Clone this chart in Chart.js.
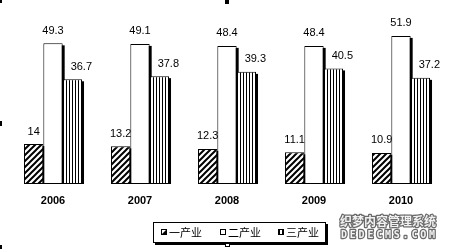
<!DOCTYPE html>
<html>
<head>
<meta charset="utf-8">
<script src="https://cdn.jsdelivr.net/npm/chart.js@4.4.0/dist/chart.umd.min.js"></script>
<style>
  html, body { margin: 0; padding: 0; background: #fff; }
  #wrap { position: relative; width: 449px; height: 249px; }
</style>
</head>
<body>
<div id="wrap"><canvas id="chart" width="449" height="249"></canvas></div>
<script>
const years = ["2006", "2007", "2008", "2009", "2010"];
const primary = [14, 13.2, 12.3, 11.1, 10.9];
const secondary = [49.3, 49.1, 48.4, 48.4, 51.9];
const tertiary = [36.7, 37.8, 39.3, 40.5, 37.2];
const seriesNames = ["一产业", "二产业", "三产业"];

// fill patterns, like the old office chart
function hatchPattern() {
  const c = document.createElement("canvas");
  c.width = 6; c.height = 6;
  const g = c.getContext("2d");
  g.fillStyle = "#fff";
  g.fillRect(0, 0, 6, 6);
  g.strokeStyle = "#000";
  g.lineWidth = 2;
  g.beginPath();
  g.moveTo(-1, 7); g.lineTo(7, -1);
  g.moveTo(-1, 1); g.lineTo(1, -1);
  g.moveTo(5, 7); g.lineTo(7, 5);
  g.stroke();
  return g.createPattern(c, "repeat");
}

function stripePattern() {
  const c = document.createElement("canvas");
  c.width = 3; c.height = 1;
  const g = c.getContext("2d");
  g.fillStyle = "#fff";
  g.fillRect(0, 0, 3, 1);
  g.fillStyle = "#000";
  g.fillRect(0, 0, 1, 1);
  return g.createPattern(c, "repeat");
}

const labelShift = [0, 0, 9];

const decor = {
  id: "decor",
  beforeDatasetsDraw(chart) {
    const ctx = chart.ctx;
    ctx.save();
    ctx.fillStyle = "#000";
    chart.data.datasets.forEach((ds, i) => {
      chart.getDatasetMeta(i).data.forEach((bar) => {
        const { x, y, base, width } = bar.getProps(["x", "y", "base", "width"], true);
        ctx.fillRect(x - width / 2 + 2, y + 2, width, base - y - 2);
      });
    });
    ctx.restore();
  },
  afterDatasetsDraw(chart) {
    const ctx = chart.ctx;
    const xScale = chart.scales.x;
    ctx.save();
    ctx.fillStyle = "#000";
    ctx.textAlign = "center";
    ctx.textBaseline = "middle";

    // value labels
    ctx.font = "11px 'Liberation Sans', Arial, sans-serif";
    chart.data.datasets.forEach((ds, i) => {
      chart.getDatasetMeta(i).data.forEach((bar, j) => {
        const { x, y } = bar.getProps(["x", "y"], true);
        ctx.fillText(String(ds.data[j]), x + labelShift[i], y - 12.5);
      });
    });

    // year labels
    ctx.font = "bold 11px 'Liberation Sans', Arial, sans-serif";
    chart.data.labels.forEach((lab, i) => {
      ctx.fillText(lab, xScale.getPixelForValue(i), 200.5);
    });

    // legend box with shadow
    ctx.fillStyle = "#000";
    ctx.fillRect(155, 224, 173, 21);
    ctx.fillStyle = "#fff";
    ctx.fillRect(153, 222, 173, 21);
    ctx.strokeStyle = "#000";
    ctx.lineWidth = 1;
    ctx.strokeRect(153.5, 222.5, 172, 20);

    const mx = [161, 220, 278];
    const tx = [169, 228, 286];
    ctx.textAlign = "left";
    ctx.font = "11px 'Noto Sans CJK SC', sans-serif";
    seriesNames.forEach((name, i) => {
      const x0 = mx[i], y0 = 229;
      ctx.fillStyle = "#fff";
      ctx.fillRect(x0, y0, 6, 6);
      ctx.fillStyle = "#000";
      if (i === 0) {
        ctx.beginPath();
        ctx.moveTo(x0 + 6, y0);
        ctx.lineTo(x0 + 6, y0 + 6);
        ctx.lineTo(x0, y0 + 6);
        ctx.closePath();
        ctx.fill();
      } else if (i === 2) {
        ctx.fillRect(x0, y0, 2, 6);
        ctx.fillRect(x0 + 4, y0, 2, 6);
      }
      ctx.strokeRect(x0 + 0.5, y0 + 0.5, 5, 5);
      ctx.fillText(name, tx[i], 232.5);
    });

    // selection handles
    ctx.fillStyle = "#000";
    ctx.fillRect(0, 0, 2, 3);
    ctx.fillRect(0, 121, 2, 5);
    ctx.fillRect(0, 245, 2, 4);
    ctx.fillRect(225, 0, 4, 4);
    ctx.fillStyle = "#fff";
    ctx.fillRect(225, 243, 5, 4);
    ctx.strokeRect(225.5, 243.5, 4, 3);

    // watermark
    ctx.textAlign = "left";
    ctx.lineJoin = "round";
    ctx.font = "bold 12px 'Noto Sans CJK SC', sans-serif";
    ctx.strokeStyle = "#6a6a6a";
    ctx.lineWidth = 2.5;
    ctx.strokeText("织梦内容管理系统", 340, 221);
    ctx.fillStyle = "#f2f2f2";
    ctx.fillText("织梦内容管理系统", 340, 221);
    ctx.font = "bold 10px 'DejaVu Sans Mono', monospace";
    const wm = "DEDECMS.COM";
    for (let k = 0; k < wm.length; k++) {
      ctx.strokeText(wm[k], 341 + k * 8.8, 235);
      ctx.fillText(wm[k], 341 + k * 8.8, 235);
    }
    ctx.restore();
  }
};

const ctx = document.getElementById("chart").getContext("2d");
new Chart(ctx, {
  type: "bar",
  data: {
    labels: years,
    datasets: [
      { label: seriesNames[0], data: primary, backgroundColor: hatchPattern() },
      { label: seriesNames[1], data: secondary, backgroundColor: "#fff" },
      { label: seriesNames[2], data: tertiary, backgroundColor: stripePattern() }
    ]
  },
  options: {
    responsive: false,
    animation: false,
    layout: { padding: { left: 9.5, right: 4.5, top: 12.8, bottom: 65 } },
    datasets: {
      bar: {
        categoryPercentage: 0.667,
        barPercentage: 1,
        borderColor: "#000",
        borderWidth: 1,
        borderSkipped: false
      }
    },
    scales: {
      x: { display: false },
      y: { display: false, min: 0, max: 60 }
    },
    plugins: { legend: { display: false }, tooltip: { enabled: false } }
  },
  plugins: [decor]
});
</script>
</body>
</html>
